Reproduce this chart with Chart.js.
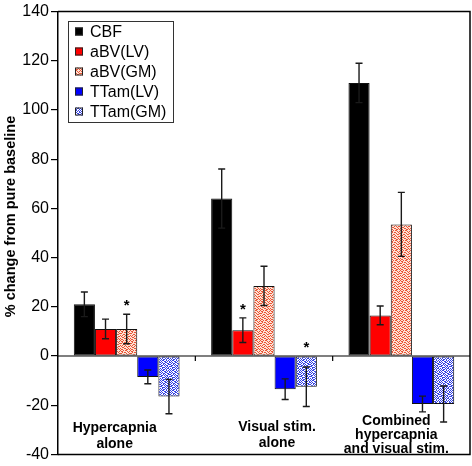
<!DOCTYPE html>
<html>
<head>
<meta charset="utf-8">
<script src="https://cdn.jsdelivr.net/npm/chart.js@4/dist/chart.umd.min.js"></script>
<style>
  html, body { margin: 0; padding: 0; background: #fff; }
  #wrap { width: 472px; height: 466px; }
</style>
</head>
<body>
<div id="wrap"><canvas id="bars"></canvas></div>
<script>
// data
var categories = [['Hypercapnia', 'alone'], ['Visual stim.', 'alone'], ['Combined', 'hypercapnia', 'and visual stim.']];
var seriesNames = ['CBF', 'aBV(LV)', 'aBV(GM)', 'TTam(LV)', 'TTam(GM)'];
var cbf = [21, 64, 111];
var cbfErr = [5, 12, 8];
var abvLv = [11, 10.5, 16.5];
var abvLvErr = [4, 5, 3.8];
var abvGm = [11, 28.5, 53.5];
var abvGmErr = [6, 8, 13];
var ttamLv = [-8.5, -13.5, -19.5];
var ttamLvErr = [2.8, 4.2, 3.2];
var ttamGm = [-16.5, -12.5, -19.5];
var ttamGmErr = [7, 8, 7.3];
var yTicks = [-40, -20, 0, 20, 40, 60, 80, 100, 120, 140];
var yTitle = '% change from pure baseline';
// [dataset, category] pairs marked with an asterisk
var starred = [[2, 0], [1, 1], [4, 1]];

var FONT = "'Liberation Sans', Arial, Helvetica, sans-serif";

function makePattern(bg, fg, rows) {
    var c = document.createElement('canvas');
    c.width = rows[0].length;
    c.height = rows.length;
    var g = c.getContext('2d');
    g.fillStyle = bg;
    g.fillRect(0, 0, c.width, c.height);
    g.fillStyle = fg;
    for (var y = 0; y < rows.length; y++) {
        for (var x = 0; x < rows[y].length; x++) {
            if (rows[y][x] === '1') g.fillRect(x, y, 1, 1);
        }
    }
    return g.createPattern(c, 'repeat');
}

// irregular speckle masks
var orangeDots = makePattern('#fde2d4', '#ea5436', [
    '1001011000',
    '0110000101',
    '0010110010',
    '1100001001',
    '0001100110',
    '1010010000',
    '0100101011',
    '0011000100',
    '1000110010',
    '0110001101'
]);
var blueDots = makePattern('#ffffff', '#3442e4', [
    '1011001010',
    '0100110101',
    '1010011001',
    '0101100110',
    '1001010011',
    '0110101100',
    '1100010101',
    '0011101010',
    '1010010110',
    '0101101001'
]);

var fills = ['#000000', '#ff0000', orangeDots, '#0000ff', blueDots];
var values = [cbf, abvLv, abvGm, ttamLv, ttamGm];
var errors = [cbfErr, abvLvErr, abvGmErr, ttamLvErr, ttamGmErr];

var datasets = seriesNames.map(function (name, i) {
    return {
        label: name,
        data: values[i],
        err: errors[i],
        backgroundColor: fills[i],
        borderColor: '#111',
        borderWidth: 1,
        borderSkipped: false,
        barPercentage: 1.0,
        categoryPercentage: 0.77
    };
});

var extras = {
    id: 'extras',
    afterDatasetsDraw: function (chart) {
        var ctx = chart.ctx;
        var y = chart.scales.y;
        var x = chart.scales.x;
        var a = chart.chartArea;
        ctx.save();

        // zero line and group separators
        var y0 = y.getPixelForValue(0);
        ctx.strokeStyle = '#000';
        ctx.lineWidth = 1.2;
        ctx.beginPath();
        ctx.moveTo(a.left, y0);
        ctx.lineTo(a.right, y0);
        for (var k = 1; k < categories.length; k++) {
            var xs = (x.getPixelForValue(k - 1) + x.getPixelForValue(k)) / 2;
            ctx.moveTo(xs, y0);
            ctx.lineTo(xs, y0 + 5);
        }
        ctx.stroke();

        // error bars
        ctx.strokeStyle = '#1a1a1a';
        ctx.lineWidth = 1.4;
        chart.data.datasets.forEach(function (ds, di) {
            var meta = chart.getDatasetMeta(di);
            meta.data.forEach(function (bar, i) {
                var v = ds.data[i], e = ds.err[i];
                var top = y.getPixelForValue(v + e);
                var bot = y.getPixelForValue(v - e);
                ctx.beginPath();
                ctx.moveTo(bar.x, top);
                ctx.lineTo(bar.x, bot);
                ctx.moveTo(bar.x - 3.5, top);
                ctx.lineTo(bar.x + 3.5, top);
                ctx.moveTo(bar.x - 3.5, bot);
                ctx.lineTo(bar.x + 3.5, bot);
                ctx.stroke();
            });
        });

        // asterisks
        ctx.fillStyle = '#000';
        ctx.font = 'bold 15px ' + FONT;
        ctx.textAlign = 'center';
        ctx.textBaseline = 'middle';
        starred.forEach(function (s) {
            var ds = chart.data.datasets[s[0]];
            var bar = chart.getDatasetMeta(s[0]).data[s[1]];
            var hi = Math.max(ds.data[s[1]] + ds.err[s[1]], 0);
            ctx.fillText('*', bar.x, y.getPixelForValue(hi) - 8);
        });

        // category labels inside the plot
        var labelPos = [{ dx: -12, y: 428, lh: 16 }, { dx: 13, y: 427, lh: 16 }, { dx: -5, y: 421.5, lh: 14 }];
        ctx.font = 'bold 14px ' + FONT;
        categories.forEach(function (lines, i) {
            var cx = x.getPixelForValue(i) + labelPos[i].dx;
            lines.forEach(function (t, j) {
                ctx.fillText(t, cx, labelPos[i].y + j * labelPos[i].lh);
            });
        });

        // y title (sits a little above the axis middle in the original)
        ctx.save();
        ctx.translate(11, 216.5);
        ctx.rotate(-Math.PI / 2);
        ctx.font = 'bold 14.5px ' + FONT;
        ctx.fillText(yTitle, 0, 0);
        ctx.restore();

        // frame
        ctx.strokeStyle = '#000';
        ctx.lineWidth = 1.5;
        ctx.beginPath();
        ctx.moveTo(a.left, a.top);
        ctx.lineTo(a.right, a.top);
        ctx.lineTo(a.right, a.bottom);
        ctx.lineTo(a.left, a.bottom);
        ctx.stroke();

        // legend box
        var lx = 68, ly = 21, lw = 105, lh = 101;
        ctx.fillStyle = '#fff';
        ctx.fillRect(lx, ly, lw, lh);
        ctx.lineWidth = 1;
        ctx.strokeStyle = '#333';
        ctx.strokeRect(lx + 0.5, ly + 0.5, lw, lh);
        ctx.font = '16px ' + FONT;
        ctx.textAlign = 'left';
        chart.data.datasets.forEach(function (ds, di) {
            var ry = 31.5 + di * 20;
            ctx.fillStyle = ds.backgroundColor;
            ctx.fillRect(75, ry - 4, 8, 8);
            ctx.strokeStyle = '#222';
            ctx.strokeRect(75.5, ry - 3.5, 7, 7);
            ctx.fillStyle = '#000';
            ctx.fillText(ds.label, 90, ry + 1);
        });
        ctx.restore();
    }
};

new Chart(document.getElementById('bars'), {
    type: 'bar',
    data: {
        labels: categories,
        datasets: datasets
    },
    options: {
        responsive: true,
        maintainAspectRatio: false,
        animation: false,
        layout: {
            padding: { top: 10, right: 2, bottom: 9, left: 0 }
        },
        plugins: {
            legend: { display: false },
            tooltip: { enabled: false }
        },
        scales: {
            x: {
                display: false
            },
            y: {
                min: yTicks[0],
                max: yTicks[yTicks.length - 1],
                afterBuildTicks: function (scale) {
                    scale.ticks = yTicks.map(function (v) { return { value: v }; });
                },
                afterFit: function (scale) {
                    scale.width = 58;
                },
                ticks: {
                    color: '#000',
                    padding: 2,
                    font: { size: 16, family: FONT }
                },
                grid: {
                    drawOnChartArea: false,
                    color: '#000',
                    tickLength: 7,
                    lineWidth: 1.2
                },
                border: {
                    color: '#000',
                    width: 1.5
                }
            }
        }
    },
    plugins: [extras]
});
</script>
</body>
</html>
